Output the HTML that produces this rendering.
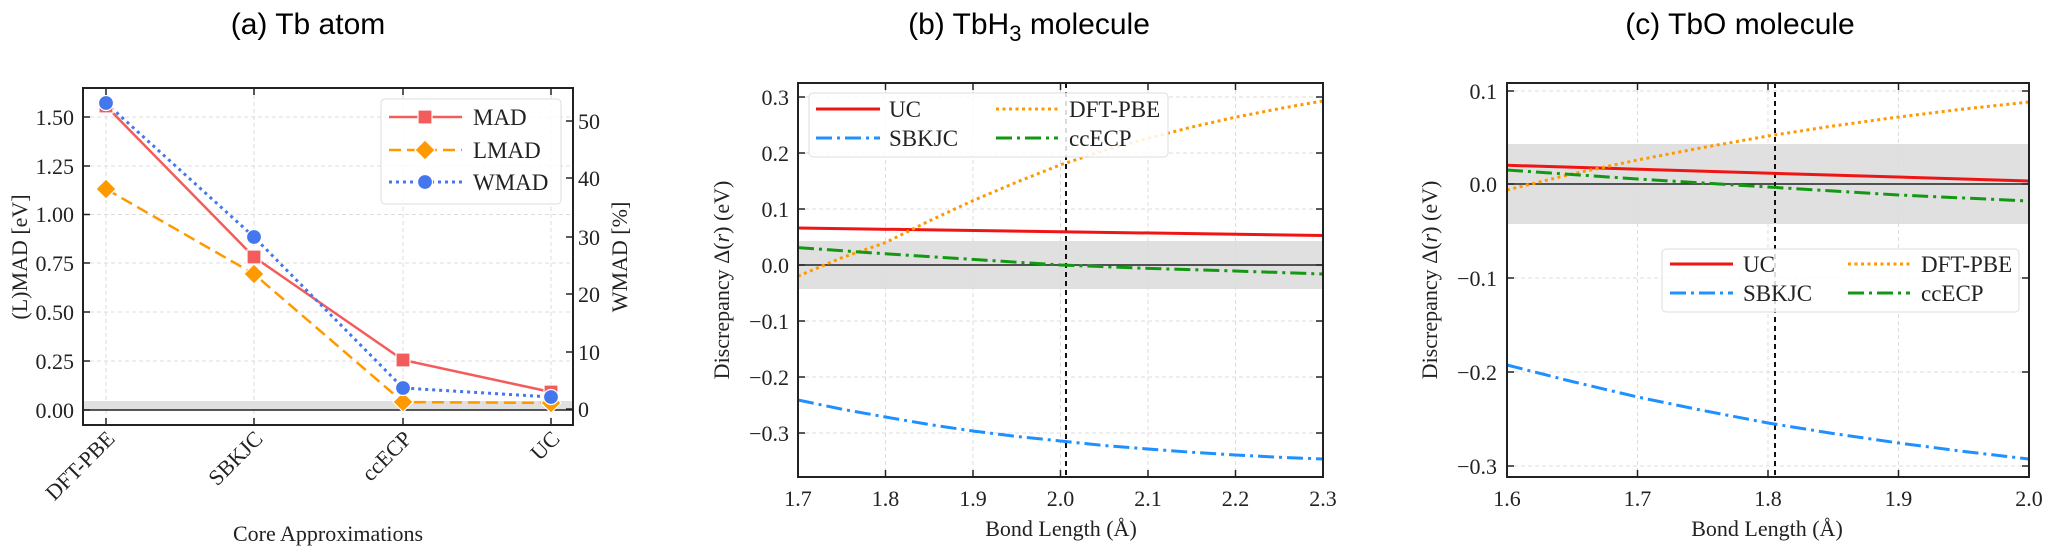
<!DOCTYPE html>
<html><head><meta charset="utf-8"><style>
html,body{margin:0;padding:0;background:#fff;}
svg{display:block;}
.t{font-family:"Liberation Serif",serif;font-size:22px;fill:#222;}
.ti{font-family:"Liberation Sans",sans-serif;font-size:30px;fill:#000;}
.lg{font-family:"Liberation Serif",serif;font-size:23px;fill:#222;}
</style></head><body>
<svg width="2050" height="548" viewBox="0 0 2050 548" xmlns="http://www.w3.org/2000/svg">
<!-- Titles -->
<text class="ti" x="308" y="34" text-anchor="middle">(a) Tb atom</text>
<text class="ti" x="1029" y="34" text-anchor="middle">(b) TbH<tspan font-size="22" dy="7">3</tspan><tspan dy="-7"> molecule</tspan></text>
<text class="ti" x="1740" y="34" text-anchor="middle">(c) TbO molecule</text>

<!-- ============ Panel (a) ============ -->
<g>
<rect x="83" y="401" width="490" height="9" fill="#e0e0e0"/>
<g stroke="#dcdcdc" stroke-width="1" stroke-dasharray="4,3">
<line x1="106" y1="88" x2="106" y2="425"/><line x1="254" y1="88" x2="254" y2="425"/>
<line x1="403" y1="88" x2="403" y2="425"/><line x1="551" y1="88" x2="551" y2="425"/>
<line x1="83" y1="117" x2="573" y2="117"/><line x1="83" y1="166" x2="573" y2="166"/>
<line x1="83" y1="214.5" x2="573" y2="214.5"/><line x1="83" y1="263" x2="573" y2="263"/>
<line x1="83" y1="312" x2="573" y2="312"/><line x1="83" y1="361" x2="573" y2="361"/>
</g>
<line x1="83" y1="410" x2="573" y2="410" stroke="#222" stroke-width="1.5"/>
<!-- series -->
<polyline points="106,106 254,257 403,360 551,392" fill="none" stroke="#f45b5b" stroke-width="2.5"/>
<polyline points="106,189 254,274 403,402 551,403" fill="none" stroke="#ff9900" stroke-width="2.5" stroke-dasharray="12,6"/>
<polyline points="106,103 254,237 403,388 551,397" fill="none" stroke="#4477ee" stroke-width="3" stroke-dasharray="3,4"/>
<g stroke="#fff" stroke-width="1.2">
<rect x="99" y="99" width="14" height="14" fill="#f45b5b"/><rect x="247" y="250" width="14" height="14" fill="#f45b5b"/>
<rect x="396" y="353" width="14" height="14" fill="#f45b5b"/><rect x="544" y="385" width="14" height="14" fill="#f45b5b"/>
<polygon points="106,179 116,189 106,199 96,189" fill="#ff9900"/><polygon points="254,264 264,274 254,284 244,274" fill="#ff9900"/>
<polygon points="403,392 413,402 403,412 393,402" fill="#ff9900"/><polygon points="551,393 561,403 551,413 541,403" fill="#ff9900"/>
<circle cx="106" cy="103" r="7.5" fill="#4477ee"/><circle cx="254" cy="237" r="7.5" fill="#4477ee"/>
<circle cx="403" cy="388" r="7.5" fill="#4477ee"/><circle cx="551" cy="397" r="7.5" fill="#4477ee"/>
</g>
<rect x="83" y="88" width="490" height="337" fill="none" stroke="#222" stroke-width="2"/>
<g stroke="#222" stroke-width="1.5">
<line x1="106" y1="88" x2="106" y2="95"/><line x1="254" y1="88" x2="254" y2="95"/><line x1="403" y1="88" x2="403" y2="95"/><line x1="551" y1="88" x2="551" y2="95"/>
<line x1="106" y1="425" x2="106" y2="418"/><line x1="254" y1="425" x2="254" y2="418"/><line x1="403" y1="425" x2="403" y2="418"/><line x1="551" y1="425" x2="551" y2="418"/>
<line x1="83" y1="117" x2="90" y2="117"/><line x1="83" y1="166" x2="90" y2="166"/><line x1="83" y1="214.5" x2="90" y2="214.5"/><line x1="83" y1="263" x2="90" y2="263"/><line x1="83" y1="312" x2="90" y2="312"/><line x1="83" y1="361" x2="90" y2="361"/><line x1="83" y1="410" x2="90" y2="410"/>
<line x1="573" y1="121" x2="566" y2="121"/><line x1="573" y1="178" x2="566" y2="178"/><line x1="573" y1="237" x2="566" y2="237"/><line x1="573" y1="294" x2="566" y2="294"/><line x1="573" y1="352" x2="566" y2="352"/><line x1="573" y1="409" x2="566" y2="409"/>
</g>
<g class="t" text-anchor="end">
<text x="74" y="125">1.50</text><text x="74" y="174">1.25</text><text x="74" y="222">1.00</text><text x="74" y="271">0.75</text><text x="74" y="320">0.50</text><text x="74" y="369">0.25</text><text x="74" y="418">0.00</text>
</g>
<g class="t">
<text x="578" y="129">50</text><text x="578" y="186">40</text><text x="578" y="245">30</text><text x="578" y="302">20</text><text x="578" y="360">10</text><text x="578" y="417">0</text>
</g>
<g class="t" text-anchor="end">
<text transform="translate(116,440) rotate(-45)">DFT-PBE</text>
<text transform="translate(264,440) rotate(-45)">SBKJC</text>
<text transform="translate(413,440) rotate(-45)">ccECP</text>
<text transform="translate(561,440) rotate(-45)">UC</text>
</g>
<text class="t" x="328" y="541" text-anchor="middle">Core Approximations</text>
<text class="t" transform="translate(27,257) rotate(-90)" text-anchor="middle">(L)MAD [eV]</text>
<text class="t" transform="translate(627,257) rotate(-90)" text-anchor="middle">WMAD [%]</text>
<!-- legend -->
<rect x="381" y="99" width="180" height="105" rx="4" fill="#fff" fill-opacity="0.85" stroke="#ddd" stroke-width="1"/>
<line x1="389" y1="117" x2="462" y2="117" stroke="#f45b5b" stroke-width="2.5"/>
<rect x="418" y="110" width="14" height="14" fill="#f45b5b" stroke="#fff" stroke-width="1.2"/>
<line x1="389" y1="150" x2="462" y2="150" stroke="#ff9900" stroke-width="2.5" stroke-dasharray="12,6"/>
<polygon points="425,140 435,150 425,160 415,150" fill="#ff9900" stroke="#fff" stroke-width="1.2"/>
<line x1="389" y1="182" x2="462" y2="182" stroke="#4477ee" stroke-width="3" stroke-dasharray="3,4"/>
<circle cx="425" cy="182" r="7.5" fill="#4477ee" stroke="#fff" stroke-width="1.2"/>
<text class="lg" x="473" y="125">MAD</text><text class="lg" x="473" y="158">LMAD</text><text class="lg" x="473" y="190">WMAD</text>
</g>

<!-- ============ Panel (b) ============ -->
<g>
<rect x="798" y="241" width="525" height="48" fill="#e0e0e0"/>
<g stroke="#dcdcdc" stroke-width="1" stroke-dasharray="4,3">
<line x1="885.5" y1="83" x2="885.5" y2="477"/><line x1="973" y1="83" x2="973" y2="477"/><line x1="1060.5" y1="83" x2="1060.5" y2="477"/><line x1="1148" y1="83" x2="1148" y2="477"/><line x1="1235.5" y1="83" x2="1235.5" y2="477"/>
<line x1="798" y1="97" x2="1323" y2="97"/><line x1="798" y1="153" x2="1323" y2="153"/><line x1="798" y1="209" x2="1323" y2="209"/><line x1="798" y1="321" x2="1323" y2="321"/><line x1="798" y1="377" x2="1323" y2="377"/><line x1="798" y1="433" x2="1323" y2="433"/>
</g>
<line x1="798" y1="265" x2="1323" y2="265" stroke="#222" stroke-width="1.5"/>
<line x1="1066" y1="83" x2="1066" y2="477" stroke="#111" stroke-width="2" stroke-dasharray="5,4"/>
<polyline points="798,228 1323,235.5" fill="none" stroke="#f01515" stroke-width="3"/>
<polyline points="798,276.2 841,258 885.5,242.6 929,221 973,200.6 1017,182 1060.5,164.8 1104,150.5 1148,138.4 1192,127 1235.5,117.2 1280,108.5 1323,100.9" fill="none" stroke="#ff9900" stroke-width="3" stroke-dasharray="3,3.5"/>
<polyline points="798,247.6 885.5,253.8 973,259.4 1060.5,265 1148,268.4 1235.5,271 1323,274" fill="none" stroke="#119911" stroke-width="3" stroke-dasharray="16,5,3,5"/>
<polyline points="798,400 841,409 885.5,417 929,424.5 973,431 1017,436.5 1060.5,441 1104,445.5 1148,449 1192,452.3 1235.5,455 1280,457.3 1323,459" fill="none" stroke="#1e90ff" stroke-width="3" stroke-dasharray="16,5,3,5"/>
<rect x="798" y="83" width="525" height="394" fill="none" stroke="#222" stroke-width="2"/>
<g stroke="#222" stroke-width="1.5">
<line x1="885.5" y1="83" x2="885.5" y2="90"/><line x1="973" y1="83" x2="973" y2="90"/><line x1="1060.5" y1="83" x2="1060.5" y2="90"/><line x1="1148" y1="83" x2="1148" y2="90"/><line x1="1235.5" y1="83" x2="1235.5" y2="90"/>
<line x1="885.5" y1="477" x2="885.5" y2="470"/><line x1="973" y1="477" x2="973" y2="470"/><line x1="1060.5" y1="477" x2="1060.5" y2="470"/><line x1="1148" y1="477" x2="1148" y2="470"/><line x1="1235.5" y1="477" x2="1235.5" y2="470"/>
<line x1="798" y1="97" x2="805" y2="97"/><line x1="798" y1="153" x2="805" y2="153"/><line x1="798" y1="209" x2="805" y2="209"/><line x1="798" y1="265" x2="805" y2="265"/><line x1="798" y1="321" x2="805" y2="321"/><line x1="798" y1="377" x2="805" y2="377"/><line x1="798" y1="433" x2="805" y2="433"/>
<line x1="1323" y1="97" x2="1316" y2="97"/><line x1="1323" y1="153" x2="1316" y2="153"/><line x1="1323" y1="209" x2="1316" y2="209"/><line x1="1323" y1="265" x2="1316" y2="265"/><line x1="1323" y1="321" x2="1316" y2="321"/><line x1="1323" y1="377" x2="1316" y2="377"/><line x1="1323" y1="433" x2="1316" y2="433"/>
</g>
<g class="t" text-anchor="end">
<text x="789" y="105">0.3</text><text x="789" y="161">0.2</text><text x="789" y="217">0.1</text><text x="789" y="273">0.0</text><text x="789" y="329">−0.1</text><text x="789" y="385">−0.2</text><text x="789" y="441">−0.3</text>
</g>
<g class="t" text-anchor="middle">
<text x="798" y="506">1.7</text><text x="885.5" y="506">1.8</text><text x="973" y="506">1.9</text><text x="1060.5" y="506">2.0</text><text x="1148" y="506">2.1</text><text x="1235.5" y="506">2.2</text><text x="1323" y="506">2.3</text>
</g>
<text class="t" x="1061" y="536" text-anchor="middle">Bond Length (Å)</text>
<text class="t" transform="translate(729,280) rotate(-90)" text-anchor="middle">Discrepancy  Δ(<tspan font-style="italic">r</tspan>) (eV)</text>
<rect x="809" y="93" width="359" height="64" rx="4" fill="#fff" fill-opacity="0.85" stroke="#ddd" stroke-width="1"/>
<line x1="816" y1="109" x2="880" y2="109" stroke="#f01515" stroke-width="3"/>
<line x1="816" y1="138" x2="880" y2="138" stroke="#1e90ff" stroke-width="3" stroke-dasharray="16,5,3,5"/>
<line x1="996" y1="109" x2="1058" y2="109" stroke="#ff9900" stroke-width="3" stroke-dasharray="3,3.5"/>
<line x1="996" y1="138" x2="1058" y2="138" stroke="#119911" stroke-width="3" stroke-dasharray="16,5,3,5"/>
<text class="lg" x="889" y="117">UC</text><text class="lg" x="889" y="146">SBKJC</text>
<text class="lg" x="1069" y="117">DFT-PBE</text><text class="lg" x="1069" y="146">ccECP</text>
</g>

<!-- ============ Panel (c) ============ -->
<g>
<rect x="1507" y="144" width="522" height="80" fill="#e0e0e0"/>
<g stroke="#dcdcdc" stroke-width="1" stroke-dasharray="4,3">
<line x1="1637.5" y1="83" x2="1637.5" y2="477"/><line x1="1768" y1="83" x2="1768" y2="477"/><line x1="1898.5" y1="83" x2="1898.5" y2="477"/>
<line x1="1507" y1="91" x2="2029" y2="91"/><line x1="1507" y1="278" x2="2029" y2="278"/><line x1="1507" y1="372" x2="2029" y2="372"/><line x1="1507" y1="466" x2="2029" y2="466"/>
</g>
<line x1="1507" y1="184" x2="2029" y2="184" stroke="#222" stroke-width="1.5"/>
<line x1="1775" y1="83" x2="1775" y2="477" stroke="#111" stroke-width="2" stroke-dasharray="5,4"/>
<polyline points="1507,165.3 2029,181" fill="none" stroke="#f01515" stroke-width="3"/>
<polyline points="1507,190 1572,174 1637.5,160 1703,147.5 1768,136 1833,126 1898.5,117 1964,109 2029,102" fill="none" stroke="#ff9900" stroke-width="3" stroke-dasharray="3,3.5"/>
<polyline points="1507,170 1637.5,179 1768,187 1898.5,195 2029,201" fill="none" stroke="#119911" stroke-width="3" stroke-dasharray="16,5,3,5"/>
<polyline points="1507,365 1572,381.5 1637.5,397 1703,410.5 1768,423 1833,433.5 1898.5,443 1964,451.5 2029,459" fill="none" stroke="#1e90ff" stroke-width="3" stroke-dasharray="16,5,3,5"/>
<rect x="1507" y="83" width="522" height="394" fill="none" stroke="#222" stroke-width="2"/>
<g stroke="#222" stroke-width="1.5">
<line x1="1637.5" y1="83" x2="1637.5" y2="90"/><line x1="1768" y1="83" x2="1768" y2="90"/><line x1="1898.5" y1="83" x2="1898.5" y2="90"/>
<line x1="1637.5" y1="477" x2="1637.5" y2="470"/><line x1="1768" y1="477" x2="1768" y2="470"/><line x1="1898.5" y1="477" x2="1898.5" y2="470"/>
<line x1="1507" y1="91" x2="1514" y2="91"/><line x1="1507" y1="184" x2="1514" y2="184"/><line x1="1507" y1="278" x2="1514" y2="278"/><line x1="1507" y1="372" x2="1514" y2="372"/><line x1="1507" y1="466" x2="1514" y2="466"/>
<line x1="2029" y1="91" x2="2022" y2="91"/><line x1="2029" y1="184" x2="2022" y2="184"/><line x1="2029" y1="278" x2="2022" y2="278"/><line x1="2029" y1="372" x2="2022" y2="372"/><line x1="2029" y1="466" x2="2022" y2="466"/>
</g>
<g class="t" text-anchor="end">
<text x="1497" y="99">0.1</text><text x="1497" y="192">0.0</text><text x="1497" y="286">−0.1</text><text x="1497" y="380">−0.2</text><text x="1497" y="474">−0.3</text>
</g>
<g class="t" text-anchor="middle">
<text x="1507" y="506">1.6</text><text x="1637.5" y="506">1.7</text><text x="1768" y="506">1.8</text><text x="1898.5" y="506">1.9</text><text x="2029" y="506">2.0</text>
</g>
<text class="t" x="1767" y="536" text-anchor="middle">Bond Length (Å)</text>
<text class="t" transform="translate(1437,280) rotate(-90)" text-anchor="middle">Discrepancy  Δ(<tspan font-style="italic">r</tspan>) (eV)</text>
<rect x="1662" y="249" width="357" height="63" rx="4" fill="#fff" fill-opacity="0.85" stroke="#ddd" stroke-width="1"/>
<line x1="1670" y1="264" x2="1733" y2="264" stroke="#f01515" stroke-width="3"/>
<line x1="1670" y1="293" x2="1733" y2="293" stroke="#1e90ff" stroke-width="3" stroke-dasharray="16,5,3,5"/>
<line x1="1848" y1="264" x2="1910" y2="264" stroke="#ff9900" stroke-width="3" stroke-dasharray="3,3.5"/>
<line x1="1848" y1="293" x2="1910" y2="293" stroke="#119911" stroke-width="3" stroke-dasharray="16,5,3,5"/>
<text class="lg" x="1743" y="272">UC</text><text class="lg" x="1743" y="301">SBKJC</text>
<text class="lg" x="1921" y="272">DFT-PBE</text><text class="lg" x="1921" y="301">ccECP</text>
</g>
</svg>
</body></html>
